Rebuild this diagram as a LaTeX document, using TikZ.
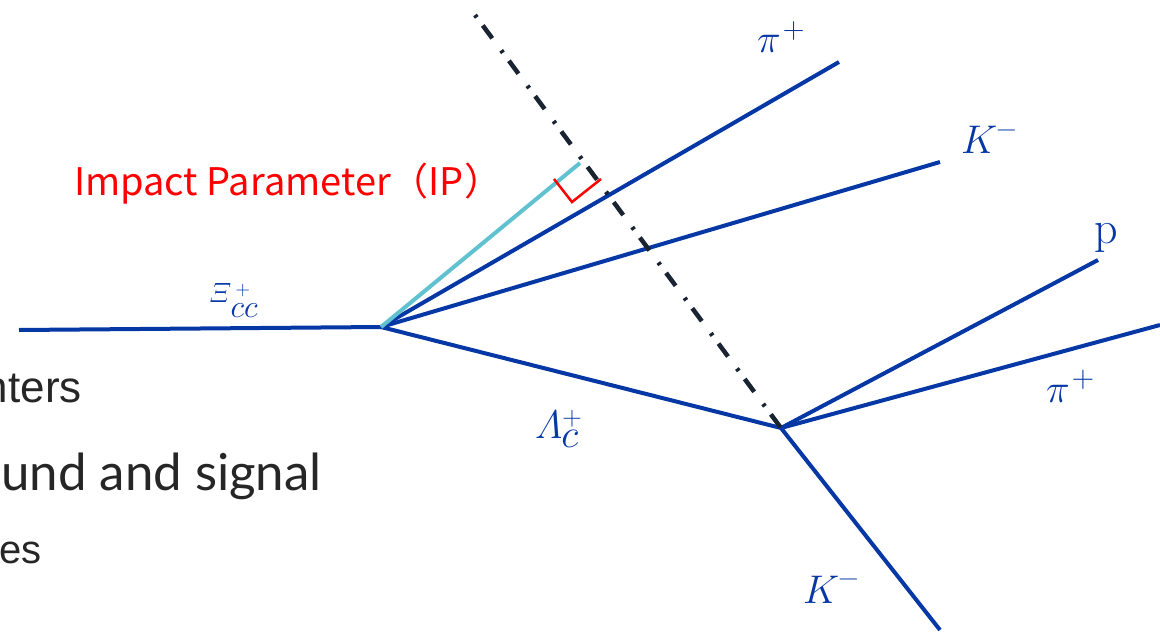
\RequirePackage{fix-cm}
\documentclass[tikz,border=0pt]{standalone}
\usepackage{amsmath}
\usepackage{fontspec}
\newfontfamily\cjkfont{Noto Sans CJK SC}
\newfontfamily\latofont{Lato}
\newfontfamily\arialfont{Liberation Sans}
\definecolor{trk}{RGB}{5,55,165}
\definecolor{ipc}{RGB}{96,194,208}
\definecolor{dd}{RGB}{25,35,50}
\definecolor{gtxt}{RGB}{38,38,38}
\newcommand{\mysup}[3]{\raisebox{#1}{\fontsize{#2}{#2}\selectfont #3}}
\tikzset{
  track/.style={draw=trk, line width=4pt},
  iptrack/.style={draw=ipc, line width=4pt},
  flight/.style={draw=dd, line width=4.5pt, dash pattern=on 3pt off 10pt on 16pt off 15pt},
  rmark/.style={draw=red, line width=2.5pt},
  plab/.style={inner sep=0pt, text=trk, anchor=base west, font=\fontsize{40}{48}\selectfont},
  bgtext/.style={inner sep=0pt, text=gtxt, anchor=base east},
}
\begin{document}
\begin{tikzpicture}[x=1pt,y=-1pt]
\useasboundingbox (0,0) rectangle (1160,634);
% vertices and end points
\coordinate (xistart) at (19,330);
\coordinate (pv) at (381,327);
\coordinate (sv) at (781,428);
\coordinate (pitop) at (839,62);
\coordinate (ktop) at (940,162);
\coordinate (pend) at (1098,260);
\coordinate (pibot) at (1160,325);
\coordinate (kbot) at (940,630);
\coordinate (ipend) at (580,163);
\coordinate (fstart) at (475,15);
\coordinate (m1) at (554,179);
\coordinate (m2) at (572,202);
\coordinate (m3) at (601,179);
% background slide text
\node[bgtext, font=\arialfont\fontsize{44}{50}\selectfont] (t1) at (82,402) {nters};
\node[bgtext, font=\latofont\fontsize{51}{58}\selectfont] (t2) at (322,490) {und and signal};
\node[bgtext, font=\arialfont\fontsize{40}{46}\selectfont] (t3) at (42,563) {es};
% tracks
\draw[track] (xistart) -- (pv);
\draw[track] (pv) -- (pitop);
\draw[track] (pv) -- (ktop);
\draw[track] (pv) -- (sv);
\draw[track] (sv) -- (pend);
\draw[track] (sv) -- (pibot);
\draw[track] (sv) -- (kbot);
% impact parameter
\draw[iptrack] (pv) -- (ipend);
\draw[rmark] (m1) -- (m2) -- (m3);
\draw[flight] (fstart) -- (sv);
% labels
\node[plab] (lpi1) at (757,53) {$\pi$\hspace{2pt}\mysup{14pt}{30}{+}};
\node[plab] (lk1) at (961,153) {$K$\hspace{-1pt}\mysup{16pt}{28}{−}};
\node[plab] (lxi) at (209,302) {\fontsize{28}{32}\selectfont$\varXi$\hspace{-1pt}\rlap{\hspace{5pt}\mysup{7pt}{20}{+}}\raisebox{-15pt}{\fontsize{32}{36}\selectfont$cc$}};
\node[plab] (llam) at (535,438) {$\varLambda$\hspace{-1pt}\rlap{\hspace{1pt}\mysup{13pt}{27}{+}}\raisebox{-9pt}{$c$}};
\node[plab, font=\fontsize{46}{52}\selectfont] (lp) at (1094,243) {$\mathrm{p}$};
\node[plab] (lpi2) at (1046,402) {$\pi$\hspace{2pt}\mysup{15pt}{31}{+}};
\node[plab] (lk2) at (803,603) {$K$\hspace{-1pt}\mysup{17pt}{28}{−}};
\node[inner sep=0pt, anchor=base west, text=red, font=\cjkfont\fontsize{38}{44}\selectfont] (lip) at (74,195) {Impact Parameter（IP）};
\end{tikzpicture}
\end{document}
